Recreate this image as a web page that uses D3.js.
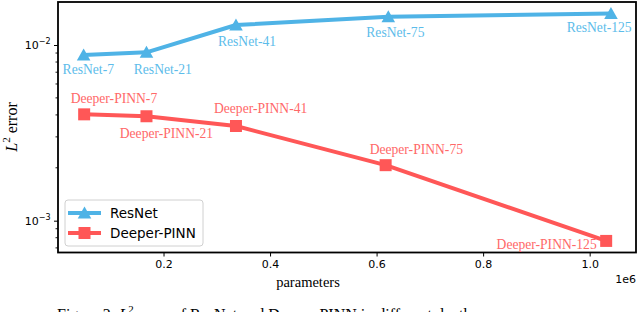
<!DOCTYPE html>
<html>
<head>
<meta charset="utf-8">
<script src="https://cdn.jsdelivr.net/npm/d3@7"></script>
<style>
  body { margin: 0; background: #fff; }
  svg { display: block; }
</style>
</head>
<body>
<div id="chart"></div>
<script>
// values
const resnetLabels = ["ResNet-7", "ResNet-21", "ResNet-41", "ResNet-75", "ResNet-125"];
const resnetParams = [0.050e6, 0.168e6, 0.336e6, 0.622e6, 1.040e6];
const resnetError = [0.00877, 0.00908, 0.0130, 0.01449, 0.0151];

const pinnLabels = ["Deeper-PINN-7", "Deeper-PINN-21", "Deeper-PINN-41", "Deeper-PINN-75", "Deeper-PINN-125"];
const pinnParams = [0.051e6, 0.168e6, 0.336e6, 0.617e6, 1.031e6];
const pinnError = [0.00403, 0.00393, 0.00346, 0.00207, 0.000767];

const xTicks = [0.2e6, 0.4e6, 0.6e6, 0.8e6, 1.0e6];
const yTicks = [1e-3, 1e-2];

const width = 640, height = 312;
const margin = { top: 2, right: 4, bottom: 59.5, left: 58 };
const iw = width - margin.left - margin.right;
const ih = height - margin.top - margin.bottom;

const blue = "#4fb3e6", red = "#ff5757";
const blueText = "#5cbcea", redText = "#ff6868";

const svg = d3.select("#chart").append("svg")
    .attr("width", width)
    .attr("height", height);

const g = svg.append("g")
    .attr("transform", `translate(${margin.left},${margin.top})`);

const x = d3.scaleLinear()
    .domain([0.0019e6, 1.087e6])
    .range([0, iw]);

const y = d3.scaleLog()
    .domain([6.59e-4, 0.01757])
    .range([ih, 0]);

// x axis
const xAxis = g.append("g")
    .attr("transform", `translate(0,${ih})`)
    .call(d3.axisBottom(x).tickValues(xTicks).tickSize(4).tickPadding(4)
        .tickFormat(d => (d / 1e6).toFixed(1)));
xAxis.select(".domain").remove();
xAxis.selectAll("text")
    .attr("font-family", "DejaVu Sans").attr("font-size", 11).attr("fill", "#000");
xAxis.selectAll("line").attr("stroke", "#000").attr("stroke-width", 1);

// y axis: minor ticks
const minorTicks = [];
[1e-4, 1e-3, 1e-2].forEach(dec => {
    for (let k = 2; k <= 9; k++) {
        const v = k * dec;
        if (v >= y.domain()[0] && v <= y.domain()[1]) minorTicks.push(v);
    }
});
g.selectAll(".minor")
    .data(minorTicks)
    .enter().append("line")
    .attr("class", "minor")
    .attr("x1", -2.5).attr("x2", 0)
    .attr("y1", d => y(d)).attr("y2", d => y(d))
    .attr("stroke", "#000").attr("stroke-width", 0.9);

const yAxis = g.append("g")
    .call(d3.axisLeft(y).tickValues(yTicks).tickSize(4).tickPadding(3).tickFormat(""));
yAxis.select(".domain").remove();
yAxis.selectAll("line").attr("stroke", "#000").attr("stroke-width", 1);

const yLab = g.selectAll(".ylab")
    .data(yTicks)
    .enter().append("text")
    .attr("class", "ylab")
    .attr("x", -7.5)
    .attr("y", d => y(d) + 4)
    .attr("text-anchor", "end")
    .attr("font-family", "DejaVu Sans")
    .attr("font-size", 11);
yLab.append("tspan").text("10");
yLab.append("tspan")
    .attr("dy", -5)
    .attr("font-size", 8)
    .text(d => "\u2212" + Math.round(-Math.log10(d)));

// frame
g.append("rect")
    .attr("width", iw).attr("height", ih)
    .attr("fill", "none")
    .attr("stroke", "#000")
    .attr("stroke-width", 1.8);

// series
const resnet = resnetParams.map((p, i) => ({ x: p, y: resnetError[i], label: resnetLabels[i] }));
const pinn = pinnParams.map((p, i) => ({ x: p, y: pinnError[i], label: pinnLabels[i] }));

const line = d3.line().x(d => x(d.x)).y(d => y(d.y));

const triPath = "M0,-6.5L6.8,5.5L-6.8,5.5Z";
const sqPath = "M-6,-6H6V6H-6Z";

function drawSeries(data, color, markerPath) {
    g.append("path")
        .datum(data)
        .attr("d", line)
        .attr("fill", "none")
        .attr("stroke", color)
        .attr("stroke-width", 4)
        .attr("stroke-linejoin", "round");
    g.selectAll(null)
        .data(data)
        .enter().append("path")
        .attr("d", markerPath)
        .attr("transform", d => `translate(${x(d.x)},${y(d.y)})`)
        .attr("fill", color);
}
drawSeries(pinn, red, sqPath);
drawSeries(resnet, blue, triPath);

// point annotations (offsets in px from the point: left edge, baseline)
const resnetOffsets = [[-21, 19], [-12.7, 21.7], [-18, 20.7], [-22, 20.4], [-44.3, 18.3]];
const pinnOffsets = [[-13.5, -11.3], [-26.7, 21.7], [-22, -13], [-16, -11], [-109.6, 8]];

function annotate(data, offsets, color) {
    g.selectAll(null)
        .data(data)
        .enter().append("text")
        .attr("x", (d, i) => x(d.x) + offsets[i][0])
        .attr("y", (d, i) => y(d.y) + offsets[i][1])
        .attr("font-family", "Liberation Serif")
        .attr("font-size", 13.6)
        .attr("fill", color)
        .text(d => d.label);
}
annotate(resnet, resnetOffsets, blueText);
annotate(pinn, pinnOffsets, redText);

// legend
const legend = g.append("g").attr("transform", "translate(7,198)");
legend.append("rect")
    .attr("width", 138).attr("height", 46)
    .attr("rx", 3)
    .attr("fill", "#fff").attr("fill-opacity", 0.8)
    .attr("stroke", "#d0d0d0").attr("stroke-width", 1);
const legendItems = [
    { name: "ResNet", color: blue, marker: triPath },
    { name: "Deeper-PINN", color: red, marker: sqPath }
];
const li = legend.selectAll(".item")
    .data(legendItems)
    .enter().append("g")
    .attr("transform", (d, i) => `translate(0,${13 + i * 20})`);
li.append("line")
    .attr("x1", 3).attr("x2", 36)
    .attr("stroke", d => d.color).attr("stroke-width", 4);
li.append("path")
    .attr("d", d => d.marker)
    .attr("transform", "translate(19.5,0)")
    .attr("fill", d => d.color);
li.append("text")
    .attr("x", 45).attr("y", 5)
    .attr("font-family", "DejaVu Sans")
    .attr("font-size", 13.5)
    .text(d => d.name);

// axis labels
svg.append("text")
    .attr("x", 308).attr("y", 287)
    .attr("text-anchor", "middle")
    .attr("font-family", "Liberation Serif")
    .attr("font-size", 14.5)
    .text("parameters");

svg.append("text")
    .attr("x", 636).attr("y", 283)
    .attr("text-anchor", "end")
    .attr("font-family", "DejaVu Sans")
    .attr("font-size", 11)
    .text("1e6");

const yt = svg.append("text")
    .attr("transform", "translate(17,127) rotate(-90)")
    .attr("text-anchor", "middle")
    .attr("font-family", "Liberation Serif")
    .attr("font-size", 16);
yt.append("tspan").attr("font-style", "italic").text("L");
yt.append("tspan").attr("dy", -7).attr("font-size", 11).text("2");
yt.append("tspan").attr("dy", 7).text(" error");

// caption (cut off by the bottom edge, as in the reference)
const cap = svg.append("text")
    .attr("x", 57).attr("y", 319.5)
    .attr("font-family", "Liberation Serif")
    .attr("font-size", 16);
cap.append("tspan").text("Figure 2: ");
cap.append("tspan").attr("font-style", "italic").text("L");
cap.append("tspan").attr("dy", -7).attr("font-size", 11).text("2");
cap.append("tspan").attr("dy", 7).text(" error of ResNet and Deeper-PINN in different depth.");
</script>
</body>
</html>
